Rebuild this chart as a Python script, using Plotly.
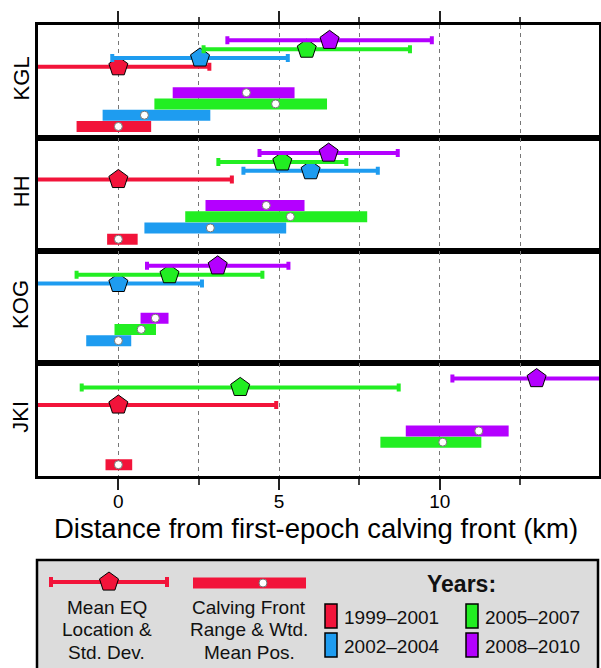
import plotly.graph_objects as go

# ---------------- data ----------------
glaciers = ["KGL", "HH", "KOG", "JKI"]
periods = ["1999–2001", "2002–2004", "2005–2007", "2008–2010"]
period_colors = ["#f2143a", "#1e9cf0", "#22ee22", "#b400ff"]

# mean earthquake location (km from first-epoch calving front); rows = glaciers, cols = periods
eq_mean = [
    [0.0, 2.54, 5.86, 6.57],
    [0.0, 5.98, 5.10, 6.54],
    [None, 0.0, 1.59, 3.09],
    [0.0, None, 3.79, 13.01],
]
# standard deviation of earthquake location (km)
eq_std = [
    [2.83, 2.73, 3.21, 3.18],
    [3.53, 2.09, 1.99, 2.15],
    [None, 2.60, 2.89, 2.20],
    [4.91, None, 4.93, 2.62],
]
# calving front range (km) and weighted mean position
front_min = [
    [-1.30, -0.49, 1.12, 1.69],
    [-0.35, 0.81, 2.08, 2.71],
    [None, -1.00, -0.12, 0.69],
    [-0.40, None, 8.15, 8.94],
]
front_max = [
    [1.02, 2.86, 6.49, 5.48],
    [0.60, 5.22, 7.74, 5.79],
    [None, 0.40, 1.17, 1.56],
    [0.43, None, 11.29, 12.14],
]
front_wmean = [
    [0.0, 0.81, 4.89, 3.98],
    [0.0, 2.86, 5.35, 4.60],
    [None, 0.0, 0.71, 1.15],
    [0.0, None, 10.09, 11.21],
]
x_tickvals = [0, 5, 10]
x_minor_tickvals = [2.5, 7.5, 12.5]

# ---------------- layout helpers ----------------
W, H = 601, 668
FONT = "Liberation Sans, Arial, Helvetica, sans-serif"
PLOT_L, PLOT_R, PLOT_T, PLOT_B = 38, 599, 25, 476
panel_h = (PLOT_B - PLOT_T) / 4


def fx(p):
    return p / W


def fy(p):
    return 1 - p / H


def bar_row(i):
    return 1 + i


def eq_row(i):
    return 6.3 + 0.78 * i


fig = go.Figure()

for g, name in enumerate(glaciers):
    xa = "x" if g == 0 else f"x{g + 1}"
    ya = "y" if g == 0 else f"y{g + 1}"
    for i in range(len(periods)):
        if front_min[g][i] is None:
            continue
        fig.add_trace(go.Bar(
            x=[front_max[g][i] - front_min[g][i]], base=[front_min[g][i]], y=[bar_row(i)],
            orientation="h", width=0.98, marker=dict(color=period_colors[i], line=dict(width=0)),
            xaxis=xa, yaxis=ya, showlegend=False, hoverinfo="skip"))
        fig.add_trace(go.Scatter(
            x=[front_wmean[g][i]], y=[bar_row(i)], mode="markers",
            marker=dict(symbol="circle", size=8, color="white", line=dict(color="#777", width=1)),
            xaxis=xa, yaxis=ya, showlegend=False, hoverinfo="skip"))
    for i in range(len(periods)):
        if eq_mean[g][i] is None:
            continue
        fig.add_trace(go.Scatter(
            x=[eq_mean[g][i]], y=[eq_row(i)], mode="markers",
            marker=dict(symbol="pentagon", size=20, color=period_colors[i],
                        line=dict(color="black", width=1)),
            error_x=dict(type="data", array=[eq_std[g][i]], color=period_colors[i],
                         thickness=4, width=4),
            xaxis=xa, yaxis=ya, showlegend=False, hoverinfo="skip"))

# axes for panels
for g, name in enumerate(glaciers):
    top = PLOT_T + panel_h * g
    bot = PLOT_T + panel_h * (g + 1)
    xkey = "xaxis" if g == 0 else f"xaxis{g + 1}"
    ykey = "yaxis" if g == 0 else f"yaxis{g + 1}"
    yname = "y" if g == 0 else f"y{g + 1}"
    xax = dict(
        domain=[fx(PLOT_L), fx(PLOT_R)], range=[-2.5, 14.95], anchor=yname,
        showline=True, mirror=True, linecolor="black", linewidth=3,
        zeroline=False, showgrid=True, gridcolor="#777", griddash="4px,4px", gridwidth=1,
        tickvals=x_tickvals, showticklabels=False, ticks="",
        minor=dict(tickvals=x_minor_tickvals, showgrid=True, gridcolor="#777",
                   griddash="4px,4px", gridwidth=1, ticks=""),
    )
    if g > 0:
        xax["matches"] = "x"
    if g == 0:
        xax.update(side="top", ticks="outside", ticklen=11, tickwidth=1.5, tickcolor="#222")
        xax["minor"].update(ticks="outside", ticklen=5, tickwidth=1.5, tickcolor="#444")
    if g == len(glaciers) - 1:
        xax.update(side="bottom", ticks="outside", ticklen=11, tickwidth=1.5, tickcolor="#222",
                   showticklabels=True, tickfont=dict(size=19, color="black", family=FONT),
                   ticklabelstandoff=-5)
        xax["minor"].update(ticks="outside", ticklen=6, tickwidth=1.5, tickcolor="#444")
    fig.layout[xkey] = xax
    fig.layout[ykey] = dict(
        domain=[fy(bot), fy(top)], range=[0, 10], anchor="x" if g == 0 else f"x{g + 1}",
        showline=True, mirror=True, linecolor="black", linewidth=2.5,
        showgrid=False, zeroline=False, showticklabels=False, ticks="")
    fig.add_annotation(text=name, x=fx(21), y=fy((top + bot) / 2 - 3), xref="paper", yref="paper",
                       xanchor="center", yanchor="middle",
                       textangle=-90, showarrow=False, font=dict(size=22, color="black", family=FONT))

# axis title
fig.add_annotation(text="Distance from first-epoch calving front (km)", x=fx(316), y=fy(528),
                   xref="paper", yref="paper", showarrow=False, xanchor="center", yanchor="middle",
                   font=dict(size=27.5, color="black", family=FONT))

# ---------------- key (legend) ----------------
fig.layout["xaxis5"] = dict(domain=[0, 1], range=[0, W], visible=False, anchor="y5")
fig.layout["yaxis5"] = dict(domain=[0, fy(556)], range=[H, 556], visible=False, anchor="x5")

fig.add_shape(type="rect", xref="paper", yref="paper", x0=fx(37), x1=fx(598), y0=-0.02, y1=fy(560),
              fillcolor="#dcdcdc", line=dict(color="black", width=2.5), layer="below")

key_color = period_colors[0]
fig.add_trace(go.Scatter(
    x=[109], y=[582], mode="markers", xaxis="x5", yaxis="y5",
    marker=dict(symbol="pentagon", size=20, color=key_color, line=dict(color="black", width=1)),
    error_x=dict(type="data", array=[58], color=key_color, thickness=4, width=5),
    showlegend=False, hoverinfo="skip"))
fig.add_trace(go.Bar(x=[113], base=[193], y=[583], orientation="h", width=11, xaxis="x5", yaxis="y5",
                     marker=dict(color=key_color, line=dict(width=0)), showlegend=False, hoverinfo="skip"))
fig.add_trace(go.Scatter(
    x=[263], y=[583], mode="markers", xaxis="x5", yaxis="y5",
    marker=dict(symbol="circle", size=8, color="white", line=dict(color="#777", width=1)),
    showlegend=False, hoverinfo="skip"))

key_lines_y = [607, 629.5, 652]
for cx, lines in [(106.5, ["Mean EQ", "Location &", "Std. Dev."]),
                  (249, ["Calving Front", "Range & Wtd.", "Mean Pos."])]:
    for ly, t in zip(key_lines_y, lines):
        fig.add_annotation(text=t, x=fx(cx), y=fy(ly), xref="paper", yref="paper", showarrow=False,
                           xanchor="center", yanchor="middle",
                           font=dict(size=19, color="#111", family=FONT))

fig.add_annotation(text="<b>Years:</b>", x=fx(461), y=fy(584), xref="paper", yref="paper",
                   showarrow=False, xanchor="center", yanchor="middle",
                   font=dict(size=23, color="#111", family=FONT))

swatch_pos = [(325, 604), (325, 633), (466, 604), (466, 633)]
for i, (sx, sy) in enumerate(swatch_pos):
    fig.add_shape(type="rect", xref="x5", yref="y5", x0=sx, x1=sx + 12, y0=sy, y1=sy + 24,
                  fillcolor=period_colors[i], line=dict(color="black", width=1.5))
    fig.add_annotation(text=periods[i], x=fx(sx + 17), y=fy(sy + 13), xref="paper", yref="paper",
                       showarrow=False, xanchor="left", yanchor="middle",
                       font=dict(size=19, color="#111", family=FONT))

fig.update_layout(
    width=W, height=H, margin=dict(l=0, r=0, t=0, b=0, pad=0),
    paper_bgcolor="white", plot_bgcolor="white", barmode="overlay",
    showlegend=False, font=dict(family=FONT, color="black"),
)

fig.write_html("out.html")
